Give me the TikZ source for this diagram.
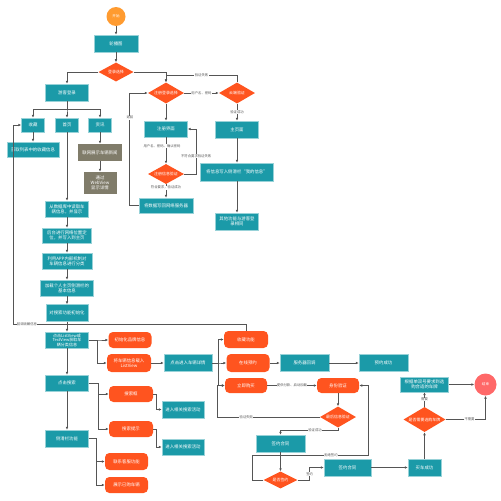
\documentclass[tikz,border=0pt]{standalone}
\usepackage{fontspec}
\setmainfont{Noto Sans CJK SC}
\usetikzlibrary{shapes.geometric, arrows.meta}

\definecolor{boxteal}{RGB}{27,154,168}
\definecolor{boxred}{RGB}{255,84,31}
\definecolor{boxgrey}{RGB}{128,124,106}
\definecolor{startorange}{RGB}{255,155,48}
\definecolor{endred}{RGB}{255,104,104}
\definecolor{linegray}{RGB}{85,85,85}

\begin{document}
\begin{tikzpicture}[
    x=0.04cm, y=-0.04cm,
    >={Latex[length=3.5pt,width=3pt]},
    flow/.style={draw=linegray, line width=0.85pt},
    sz/.style 2 args={minimum width=#1*0.04cm, minimum height=#2*0.04cm},
    basebox/.style={rectangle, inner sep=0.4pt, align=center, text=white, font=\fontsize{5}{5.8}\selectfont},
    tealnode/.style={basebox, fill=boxteal, draw=boxteal!45!white, line width=0.3pt},
    greynode/.style={basebox, fill=boxgrey},
    rednode/.style={basebox, fill=boxred, rounded corners=5pt},
    decision/.style={diamond, aspect=1.7, inner sep=0pt, fill=boxred, text=white, align=center, font=\fontsize{4.5}{5.4}\selectfont},
    terminal/.style={circle, inner sep=0pt, text=white, font=\fontsize{4}{5}\selectfont},
    lbl/.style={fill=white, text=linegray, inner sep=0.4pt, font=\fontsize{3.8}{4.4}\selectfont}
]
\useasboundingbox (0,0) rectangle (501,500);

% top: start and login choice
\node[terminal, fill=startorange, minimum size=19*0.04cm] (start) at (116,16.5) {开始};
\node[tealnode, sz={44}{17}] (lunbo) at (116,43.5) {轮播图};
\node[decision, sz={35}{19}] (dlxz) at (116,72) {登录选择};
\node[tealnode, sz={43}{17}] (youke) at (67,92.5) {游客登录};
\node[decision, sz={36}{21}] (zcdl) at (166,93) {注册登录选择};
\node[decision, sz={36}{21}] (yun) at (237,93) {云端验证};

% guest branch
\node[tealnode, sz={23}{14}] (shoucang) at (33,125) {收藏};
\node[tealnode, sz={23}{14}] (shouye) at (67,125) {首页};
\node[tealnode, sz={23}{14}] (zixun) at (100,125) {资讯};
\node[tealnode, sz={52}{15}] (huoqu) at (33,149.5) {获取列表中的收藏信息};
\node[greynode, sz={44}{17}] (news) at (100,152.5) {联网展示车辆新闻};
\node[greynode, sz={33}{22}] (webview) at (100,183) {通过\\WebView\\显示详情};

% register branch
\node[tealnode, sz={43}{16}] (zcjm) at (166,129) {注册界面};
\node[tealnode, sz={43}{17}] (zhuye) at (237,129.5) {主页面};
\node[decision, sz={36}{20}] (zcyz) at (166,174) {注册信息验证};
\node[tealnode, sz={54}{15}] (xiehui) at (166,205.5) {将数据写回网络服务器};
\node[tealnode, sz={73}{18}] (cehua) at (237,172) {将信息写入侧滑栏“我的信息”};
\node[tealnode, sz={43}{17}] (qita) at (237,221.5) {其他功能与游客登\\录相同};

% home page chain
\node[tealnode, sz={43}{16}] (s1) at (67,209) {从数据库中读取车\\辆信息，并显示};
\node[tealnode, sz={49}{15}] (s2) at (67,235.5) {后台进行网络位置定\\位，并写入到主页};
\node[tealnode, sz={50}{16}] (s3) at (67,261) {利用APP内部机制对\\车辆信息进行分类};
\node[tealnode, sz={53}{16}] (s4) at (67,288) {加载个人主页侧滑栏的\\基本信息};
\node[tealnode, sz={42}{17}] (s5) at (67,313) {对搜索功能初始化};
\node[tealnode, sz={43}{16}, font=\fontsize{4.6}{5.1}\selectfont] (s6) at (67,340) {点击ListView或\\TextView获取车\\辆分类信息};
\node[tealnode, sz={43}{16}] (search) at (67,383) {点击搜索};
\node[tealnode, sz={43}{17}] (cehuagn) at (67,438.5) {侧滑栏功能};

\node[rednode, sz={43}{16}] (pinpai) at (130,340) {初始化品牌信息};
\node[rednode, sz={44}{18}] (listv) at (129,363) {将车辆信息载入\\ListView};
\node[tealnode, sz={48}{17}] (xiangqing) at (188,363) {点击进入车辆详情};
\node[rednode, sz={44}{17}] (scgn) at (246,339.5) {收藏功能};
\node[rednode, sz={43}{18}] (zxyy) at (248,363) {在线预约};
\node[rednode, sz={42}{15}] (ljgm) at (246,385.5) {立即购买};
\node[tealnode, sz={49}{17}] (huidiao) at (304.5,363) {服务器回调};
\node[tealnode, sz={49}{17}] (yycg) at (383.5,363) {预约成功};

% purchase flow
\node[rednode, sz={42}{15}] (sfyz) at (338,385.5) {身份验证};
\node[decision, sz={36}{21}] (zzyz) at (338,417) {最后信息验证};
\node[tealnode, sz={49}{17}] (qyht1) at (280.5,443.5) {签约合同};
\node[decision, sz={34}{17}] (sfqy) at (280.5,480) {是否签约};
\node[tealnode, sz={47}{17}] (qyht2) at (347.5,467.5) {签约合同};
\node[tealnode, sz={33}{17}] (mcgc) at (424.5,467.5) {买车成功};
\node[decision, sz={42}{25}] (xuangou) at (424.5,419.5) {是否需要选购车牌};
\node[tealnode, sz={48}{15}] (genju) at (424.5,384.5) {根据单双号要求到选\\购合适的车牌};
\node[terminal, fill=endred, minimum size=22*0.04cm] (finish) at (485.5,384.5) {结束};

% search and side bar
\node[rednode, sz={44}{16}] (sbox) at (131,394) {搜索框};
\node[rednode, sz={44}{16}] (stip) at (131,429) {搜索提示};
\node[tealnode, sz={42}{17}] (sact1) at (183,409.5) {进入相关搜索活动};
\node[tealnode, sz={42}{16}] (sact2) at (183,447) {进入相关搜索活动};
\node[rednode, sz={43}{17}] (kefu) at (126.5,461.5) {联系客服功能};
\node[rednode, sz={43}{16}] (yigou) at (126.5,485) {展示已购车辆};

% connectors
\draw[flow,->] (start) -- (lunbo);
\draw[flow,->] (lunbo) -- (dlxz);
\draw[flow,->] (dlxz.west) -| (youke.north);
\draw[flow,->] (dlxz.east) -| (zcdl.north);
\draw[flow,->] (yun.north) -- ++(0,-7) -| node[lbl, pos=0.25] (lfail1) {验证失败} (zcdl.north);
\draw[flow,->] (zcdl) -- node[lbl] (luser) {用户名、密码} (yun);
\draw[flow,->] (zcdl) -- (zcjm);
\draw[flow,->] (yun) -- node[lbl] (lok1) {验证成功} (zhuye);
\draw[flow,->] (zhuye) -- (cehua);
\draw[flow,->] (cehua) -- (qita);
\draw[flow,->] (zcjm) -- node[lbl, pos=0.33, xshift=-0.16cm] (lreg) {用户名、密码、确认密码} (zcyz);
\draw[flow,->] (zcyz) -- node[lbl, pos=0.25] (lok2) {符合要求，验证成功} (xiehui);
\draw[flow,->] (zcyz.east) -- ++(12,0) |- node[lbl, pos=0.2] (lfail2) {不符合要求验证失败} (zcjm.east);
\draw[flow,->] (xiehui.west) -- ++(-9,0) |- node[lbl, pos=0.39] (lback) {返回} (zcdl.west);

\foreach \n in {shoucang,shouye,zixun}
    \draw[flow,->] (youke.south) -- ++(0,8) -| (\n.north);
\draw[flow,->] (shoucang) -- (huoqu);
\draw[flow,->] (zixun) -- (news);
\draw[flow,->] (news) -- (webview);
\draw[flow,->] (shouye) -- (s1);
\foreach \a/\b in {s1/s2,s2/s3,s3/s4,s4/s5,s5/s6,s6/search,search/cehuagn}
    \draw[flow,->] (\a) -- (\b);

\coordinate (scloop) at (13,324);
\draw[flow,->] (scgn.north) |- node[lbl, pos=0.97] (lsc) {回调收藏信息} (scloop) |- (shoucang.west);

\foreach \n in {pinpai,listv}
    \draw[flow,->] (s6.east) -- ++(9,0) |- (\n.west);
\draw[flow,->] (listv) -- (xiangqing);
\foreach \n in {scgn,zxyy,ljgm}
    \draw[flow,->] (xiangqing.east) -- ++(6,0) |- (\n.west);
\draw[flow,->] (zxyy) -- (huidiao);
\draw[flow,->] (huidiao) -- (yycg);
\draw[flow,->] (ljgm) -- node[lbl] (lpay) {提供付款、启动加载} (sfyz);
\draw[flow,->] (sfyz) -- (zzyz);
\draw[flow,->] (zzyz.west) -| node[lbl, pos=0.36] (lfail3) {验证失败} ([xshift=-0.28cm]ljgm.west) -- (ljgm.west);
\draw[flow,->] (zzyz.south) -- ++(0,3) -| node[lbl, pos=0.2] (lok3) {验证成功} (qyht1.north);
\draw[flow,->] (qyht1) -- (sfqy);
\draw[flow,->] (sfqy.east) -- ++(12,0) |- node[lbl, pos=0.25] (lsign) {签约} (qyht2.west);
\coordinate (rejloop) at (368,455);
\draw[flow,->] (sfqy.west) -- ++(-11,0) |- node[lbl, pos=0.84] (lrej) {拒绝签约} (rejloop) |- (sfyz.east);
\draw[flow,->] (qyht2) -- (mcgc);
\draw[flow,->] (mcgc) -- (xuangou);
\draw[flow,->] (xuangou) -- node[lbl] (lneed) {需要} (genju);
\draw[flow,->] (xuangou.east) -| node[lbl, pos=0.3] (lnoneed) {不需要} (finish.south);
\draw[flow,->] (genju) -- (finish);

\foreach \n in {sbox,stip}
    \draw[flow,->] (search.east) -- ++(10,0) |- (\n.west);
\draw[flow,->] (sbox.east) -- ++(3,0) |- (sact1.west);
\draw[flow,->] (stip.east) -- ++(3,0) |- (sact2.west);
\foreach \n in {kefu,yigou}
    \draw[flow,->] (cehuagn.east) -- ++(8,0) |- (\n.west);

\end{tikzpicture}
\end{document}
